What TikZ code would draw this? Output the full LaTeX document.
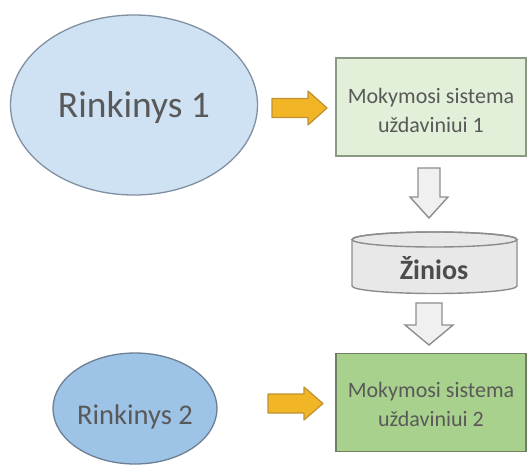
\documentclass[tikz,border=0pt]{standalone}
\usepackage{fontspec}
\setmainfont{Carlito}
\usetikzlibrary{shapes.geometric}
\definecolor{txt}{HTML}{595959}
\definecolor{setA}{HTML}{CFE2F3}
\definecolor{setAline}{HTML}{8090A2}
\definecolor{setB}{HTML}{9DC3E6}
\definecolor{setBline}{HTML}{6C7F93}
\definecolor{sysA}{HTML}{E2F0D9}
\definecolor{sysAline}{HTML}{8A9A84}
\definecolor{sysB}{HTML}{A9D18E}
\definecolor{sysBline}{HTML}{6E8064}
\definecolor{store}{HTML}{E8E8E8}
\definecolor{storeline}{HTML}{8C8C8C}
\definecolor{feed}{HTML}{F2B526}
\definecolor{feedline}{HTML}{BE9230}
\definecolor{flow}{HTML}{F0F0F0}
\definecolor{flowline}{HTML}{8E8E8E}
\tikzset{
  dataset/.style={ellipse, draw, line width=1.3pt, inner sep=0pt},
  system/.style={rectangle, draw, line width=1.3pt, minimum width=190pt, minimum height=98pt},
  systext/.style={text=txt, align=center, inner sep=0pt, font=\fontsize{22}{29}\selectfont},
  feedarrow/.style={fill=feed, draw=feedline, line width=1.2pt, line join=round},
  flowarrow/.style={fill=flow, draw=flowline, line width=1.4pt, line join=miter},
}
\begin{document}
\begin{tikzpicture}[x=1pt, y=-1pt]
\useasboundingbox (0,0) rectangle (528,466);
\fill[white] (0,0) rectangle (528,466);

% data sets
\node[dataset, fill=setA, draw=setAline, minimum width=247pt, minimum height=180pt] (set1) at (134,105) {};
\node[text=txt, font=\fontsize{37.5}{40}\selectfont] (set1t) at ([yshift=-3pt]set1.center) {Rinkinys 1};
\node[dataset, fill=setB, draw=setBline, minimum width=164pt, minimum height=111pt] (set2) at (135,408.5) {};
\node[text=txt, font=\fontsize{28.5}{30}\selectfont] (set2t) at ([yshift=-8pt]set2.center) {Rinkinys 2};

% learning systems
\node[system, fill=sysA, draw=sysAline] (sys1) at (431,107) {};
\node[systext] (sys1t) at ([yshift=-3pt]sys1.center) {Mokymosi sistema\\uždaviniui 1};
\node[system, fill=sysB, draw=sysBline] (sys2) at (431,402.5) {};
\node[systext] (sys2t) at ([yshift=-2pt]sys2.center) {Mokymosi sistema\\uždaviniui 2};

% knowledge store
\path[fill=store, draw=storeline, line width=1.4pt]
  (352,239.5) -- (352,286) arc[start angle=180, end angle=0, x radius=82.5, y radius=7.5]
  -- (517,239.5) arc[start angle=0, end angle=-180, x radius=82.5, y radius=7.5] -- cycle;
\draw[storeline, line width=1.4pt] (434.5,239.5) ellipse[x radius=82.5, y radius=7.5];
\node[text=txt!85!black, font=\bfseries\fontsize{28}{30}\selectfont] (know) at (434,268) {Žinios};

% yellow input arrows
\coordinate (in1) at (272,108);
\path[feedarrow] (in1) ++(0,-9.5) -- ++(36,0) -- ++(0,-7.5) -- ++(19,17) -- ++(-19,17)
  -- ++(0,-7.5) -- ++(-36,0) -- cycle;
\coordinate (in2) at (268,403.5);
\path[feedarrow] (in2) ++(0,-9.5) -- ++(36,0) -- ++(0,-7) -- ++(19,16.5) -- ++(-19,16.5)
  -- ++(0,-7) -- ++(-36,0) -- cycle;

% grey flow arrows
\coordinate (fl1) at (429,168);
\path[flowarrow] (fl1) ++(-11,0) -- ++(22,0) -- ++(0,29) -- ++(8,0) -- ++(-19,21)
  -- ++(-19,-21) -- ++(8,0) -- cycle;
\coordinate (fl2) at (429,303);
\path[flowarrow] (fl2) ++(-13,0) -- ++(26,0) -- ++(0,22) -- ++(11,0) -- ++(-24,20)
  -- ++(-24,-20) -- ++(11,0) -- cycle;
\end{tikzpicture}
\end{document}
